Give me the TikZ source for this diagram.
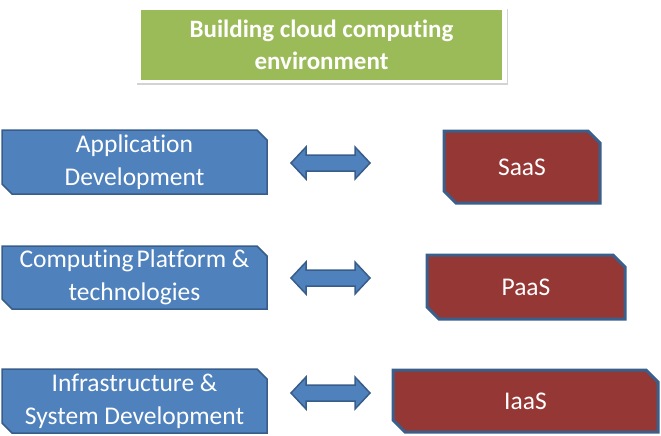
\documentclass[tikz,border=0pt]{standalone}
\usepackage{fontspec}
\setmainfont{Carlito}[Ligatures=NoCommon]
\usetikzlibrary{calc,shadows,backgrounds}
\definecolor{bluefill}{HTML}{4F81BD}
\definecolor{blueline}{HTML}{385D8A}
\definecolor{redfill}{HTML}{953735}
\definecolor{redline}{HTML}{3A5F8B}
\definecolor{greenfill}{HTML}{9BBB59}
\tikzset{
  txt/.style={font=\fontsize{25.5}{33}\selectfont, text=white, align=center},
  boxnode/.style={txt, rectangle, inner sep=0pt, outer sep=0pt},
  leftfill/.style={draw=blueline, fill=bluefill, line width=1.5pt, line join=miter},
  rightfill/.style={draw=redline, fill=redfill, line width=3pt, line join=miter},
  arrowfill/.style={draw=blueline, fill=bluefill, line width=1.5pt, line join=miter}
}
\newcommand\snipshape[2]{(#1.north west) -- ($(#1.north east)+(-#2,0)$) -- ($(#1.north east)+(0,#2)$) -- (#1.south east) -- ($(#1.south west)+(#2,0)$) -- ($(#1.south west)+(0,-#2)$) -- cycle}
\newcommand\dblarrowat[1]{($(#1)+(-39.5,0)$) -- ++(15,-16) -- ++(0,8) -- ++(49,0) -- ++(0,-8) -- ++(15,16) -- ++(-15,16) -- ++(0,-8) -- ++(-49,0) -- ++(0,8) -- cycle}
\begin{document}
\begin{tikzpicture}[x=1pt,y=-1pt]
\useasboundingbox (0,0) rectangle (661,436);
% title
\node[fill=white, drop shadow={shadow xshift=1pt, shadow yshift=-2pt, opacity=0.35},
      minimum width=371pt, minimum height=76pt, inner sep=0pt] (frame) at (321.5,45) {};
\node[fill=greenfill, minimum width=361pt, minimum height=70pt, inner sep=0pt,
      txt, font=\fontsize{25}{32}\selectfont\bfseries] (title) at (321.5,45)
      {Building cloud computing\\environment};
% left boxes
\node[boxnode, minimum width=265pt, minimum height=64pt] (app) at (134.5,162) {Application\\Development};
\node[boxnode, minimum width=265pt, minimum height=63pt] (plat) at (134.5,277.5) {Computing\hspace{-0.1em} Platform \&\\technologies};
\node[boxnode, minimum width=265pt, minimum height=64pt] (infra) at (134.5,401) {Infrastructure \&\\System Development};
% right boxes
\node[boxnode, minimum width=156pt, minimum height=72pt] (saas) at (522,167) {SaaS};
\node[boxnode, minimum width=198pt, minimum height=64pt] (paas) at (526,287) {PaaS};
\node[boxnode, minimum width=265pt, minimum height=62pt] (iaas) at (525.5,401) {IaaS};
\begin{pgfonlayer}{background}
  \path[leftfill] \snipshape{app}{10};
  \path[leftfill] \snipshape{plat}{10};
  \path[leftfill] \snipshape{infra}{10};
  \path[rightfill] \snipshape{saas}{12};
  \path[rightfill] \snipshape{paas}{12};
  \path[rightfill] \snipshape{iaas}{12};
\end{pgfonlayer}
% arrows
\coordinate (a1) at (330.5,163);
\coordinate (a2) at (330.5,278);
\coordinate (a3) at (330.5,393);
\path[arrowfill] \dblarrowat{a1};
\path[arrowfill] \dblarrowat{a2};
\path[arrowfill] \dblarrowat{a3};
\end{tikzpicture}
\end{document}
